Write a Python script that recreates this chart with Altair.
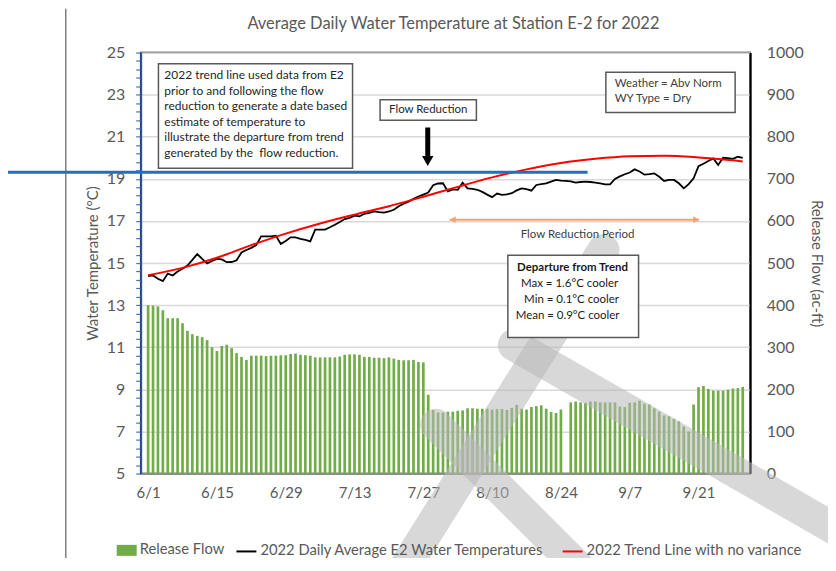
import json
import altair as alt
import pandas as pd

FONT = "Lato"
GREY = "#595959"

# ---------------- data ----------------
dates = pd.date_range("2022-06-01", "2022-09-30").strftime("%Y-%m-%d").tolist()

flow = [400, 399, 397, 388, 369, 369, 369, 357, 339, 331,
        327, 324, 317, 300, 291, 303, 306, 298, 286, 277,
        270, 280, 280, 280, 279, 280, 280, 281, 281, 284,
        285, 282, 281, 280, 276, 276, 276, 276, 276, 278,
        282, 283, 283, 282, 277, 277, 275, 275, 274, 276,
        273, 270, 269, 269, 270, 265, 264, 187, 151, 145,
        145, 147, 147, 149, 150, 155, 155, 154, 154, 154,
        152, 153, 153, 151, 156, 163, 154, 152, 158, 160,
        162, 154, 146, 144, 152, None, 169, 171, 169, 168,
        171, 171, 169, 169, 169, 169, 159, 158, 168, 169,
        173, 166, 164, 155, 147, 138, 136, 130, 124, 112,
        100, 164, 205, 208, 201, 197, 197, 197, 199, 202,
        203, 206]

temps = [14.38, 14.41, 14.25, 14.14, 14.50, 14.41, 14.60, 14.73, 14.88, 15.15,
         15.43, 15.20, 14.98, 15.10, 15.20, 15.17, 15.04, 15.05, 15.13, 15.50,
         15.62, 15.72, 15.85, 16.27, 16.27, 16.27, 16.30, 15.91, 16.05, 16.22,
         16.22, 16.15, 16.10, 16.03, 16.59, 16.59, 16.59, 16.70, 16.82, 16.95,
         17.09, 17.15, 17.25, 17.22, 17.34, 17.38, 17.45, 17.42, 17.40, 17.45,
         17.53, 17.70, 17.82, 17.92, 18.05, 18.16, 18.25, 18.35, 18.70, 18.78,
         18.79, 18.40, 18.50, 18.48, 18.82, 18.55, 18.52, 18.48, 18.38, 18.25,
         18.13, 18.30, 18.24, 18.26, 18.32, 18.45, 18.55, 18.51, 18.44, 18.71,
         18.75, 18.79, 18.87, 18.95, 18.92, 18.90, 18.88, 18.82, 18.85, 18.87,
         18.85, 18.82, 18.78, 18.74, 18.74, 19.00, 19.12, 19.22, 19.30, 19.45,
         19.35, 19.20, 19.22, 19.26, 19.10, 18.90, 18.95, 18.95, 18.79, 18.55,
         18.75, 19.03, 19.60, 19.72, 19.85, 19.97, 19.66, 20.00, 19.98, 19.95,
         20.05, 20.00]

trend_days = [0, 7, 14, 21, 28, 35, 42, 49, 56, 63, 70, 77, 84, 91, 98, 105, 112, 119, 121]
trend_vals = [14.42, 14.77, 15.25, 15.85, 16.40, 16.88, 17.30, 17.70, 18.15, 18.62,
              19.07, 19.45, 19.75, 19.95, 20.07, 20.10, 20.02, 19.88, 19.82]

tick_days = [0, 14, 28, 42, 56, 70, 84, 98, 112]
tick_labels = ["6/1", "6/15", "6/29", "7/13", "7/27", "8/10", "8/24", "9/7", "9/21"]

FLOW_NAME = "Release Flow"
TEMP_NAME = "2022 Daily Average E2 Water Temperatures"
TREND_NAME = "2022 Trend Line with no variance"

day = list(range(len(dates)))
flow_df = pd.DataFrame({"day": day, "date": dates, "flow": flow, "series": FLOW_NAME})
temp_df = pd.DataFrame({"day": day, "temp": temps, "series": TEMP_NAME})
trend_df = pd.DataFrame({"day": trend_days, "temp": trend_vals, "series": TREND_NAME})

# annotations (day / temperature coordinates)
box_x = [2.1, 47.2, 93.15, 73.2]
box_x2 = [41.6, 66.8, 119.45, 99.8]
box_y = [24.47, 22.76, 24.07, 15.37]
box_y2 = [19.50, 21.78, 22.15, 11.46]
boxes_df = pd.DataFrame({"x": box_x, "x2": box_x2, "y": box_y, "y2": box_y2})

note_lines = ["2022 trend line used data from E2",
              "prior to and following the flow",
              "reduction to generate a date based",
              "estimate of temperature to",
              "illustrate the departure from trend",
              "generated by the\u00a0 flow reduction."]
note_y = [23.91, 23.18, 22.45, 21.71, 20.98, 20.25]
note_df = pd.DataFrame({"x": [3.3] * 6, "y": note_y, "text": note_lines})

weather_df = pd.DataFrame({"x": [94.95, 94.95], "y": [23.52, 22.78],
                           "text": ["Weather = Abv Norm", "WY Type = Dry"]})
flowred_df = pd.DataFrame({"x": [57.0], "y": [22.28], "text": ["Flow Reduction"]})
arrow_df = pd.DataFrame({"x": [56.9], "y": [21.44], "y2": [20.05], "yh": [19.85]})
period_df = pd.DataFrame({"x": [61.34], "x2": [112.12], "y": [17.06]})
period_heads = pd.DataFrame({"x": [62.0, 111.5], "y": [17.06, 17.06],
                             "shape": ["triangle-left", "triangle-right"]})
period_text = pd.DataFrame({"x": [87.4], "y": [16.31], "text": ["Flow Reduction Period"]})
dep_title = pd.DataFrame({"x": [86.36], "y": [14.77], "text": ["Departure from Trend"]})
dep_lines = pd.DataFrame({"x": [85.76, 86.16, 85.36], "y": [14.02, 13.24, 12.48],
                          "text": ["Max = 1.6°C cooler", "Min = 0.1°C cooler", "Mean = 0.9°C cooler"]})

# ---------------- encodings ----------------
label_expr = f"{json.dumps(tick_labels)}[indexof({json.dumps(tick_days)}, datum.value)]"
x_scale = alt.Scale(domain=[-0.5, 121.5], nice=False, zero=False)
x_axis = alt.Axis(values=tick_days, labelExpr=label_expr, title=None, grid=False, ticks=False,
                  domainColor="#8C8C8C", domainWidth=2, labelFont=FONT, labelFontSize=15,
                  labelColor=GREY, labelPadding=12, labelOverlap=False)


def X(field="day"):
    return alt.X(f"{field}:Q", scale=x_scale, axis=x_axis)


temp_ticks = [round(5 + 0.4 * k, 1) for k in range(51)]
major = "abs(datum.value - round(datum.value)) < 0.01 && round(datum.value) % 2 == 1"
t_scale = alt.Scale(domain=[5, 25], nice=False, zero=False)
t_axis = alt.Axis(values=temp_ticks, orient="left",
                  labelExpr=f"({major}) ? format(datum.value, 'd') : ''",
                  labelOverlap=False, title="Water Temperature (°C)",
                  titleFont=FONT, titleFontSize=15, titleColor=GREY, titleFontWeight="normal",
                  titlePadding=6, labelFont=FONT, labelFontSize=16, labelColor=GREY,
                  labelPadding=11, grid=True, gridColor="#D9D9D9", gridWidth=1.5,
                  gridOpacity={"condition": {"test": major, "value": 1}, "value": 0},
                  tickColor="#4472C4", tickSize=5, tickWidth=1.2,
                  domainColor="#2F5597", domainWidth=2)


def YT(field):
    return alt.Y(f"{field}:Q", scale=t_scale, axis=t_axis)


f_scale = alt.Scale(domain=[0, 1000], nice=False, zero=True)
f_axis = alt.Axis(values=list(range(0, 1001, 100)), format="d", orient="right",
                  title="Release Flow (ac-ft)",
                  titleFont=FONT, titleFontSize=15, titleColor=GREY, titleFontWeight="normal",
                  titlePadding=5, labelFont=FONT, labelFontSize=16, labelColor=GREY,
                  labelPadding=16, grid=False, ticks=False, domainColor="black", domainWidth=2)

fill_legend = alt.Legend(title=None, orient="none", legendX=-24, legendY=489, direction="horizontal",
                         symbolType="M-1,-0.55L1,-0.55L1,0.55L-1,0.55Z", symbolSize=400,
                         symbolStrokeWidth=0, labelFont=FONT, labelFontSize=14.8, labelColor=GREY,
                         labelOffset=3, labelLimit=0, padding=0)
stroke_legend = alt.Legend(title=None, orient="none", legendX=95, legendY=489, direction="horizontal",
                           symbolType="stroke", symbolSize=400, symbolStrokeWidth=2,
                           labelFont=FONT, labelFontSize=14.8, labelColor=GREY, labelOffset=3,
                           labelLimit=0, columnPadding=14, padding=0)
stroke_scale = alt.Scale(domain=[TEMP_NAME, TREND_NAME], range=["black", "#FF0000"])

# ---------------- layers ----------------
bars = alt.Chart(flow_df).mark_bar(size=2.7).encode(
    x=X(),
    y=alt.Y("flow:Q", scale=f_scale, axis=f_axis),
    fill=alt.Fill("series:N", scale=alt.Scale(domain=[FLOW_NAME], range=["#70AD47"]), legend=fill_legend),
)

# faint "draft" watermark strokes (decoration, pixel positions)
dummy = pd.DataFrame({"k": [0]})
wm_style = dict(color="#B8B8B8", opacity=0.55, strokeWidth=32, strokeCap="round")
wm_a = alt.Chart(dummy).mark_rule(**wm_style).encode(
    x=alt.value(464), y=alt.value(198), x2=alt.value(250), y2=alt.value(540))
wm_b = alt.Chart(dummy).mark_rule(**wm_style).encode(
    x=alt.value(374), y=alt.value(293), x2=alt.value(700), y2=alt.value(480))
wm_c = alt.Chart(dummy).mark_rule(**wm_style).encode(
    x=alt.value(296), y=alt.value(373), x2=alt.value(470), y2=alt.value(547))

temp_line = alt.Chart(temp_df).mark_line(strokeWidth=1.8).encode(
    x=X(), y=YT("temp"),
    stroke=alt.Stroke("series:N", scale=stroke_scale, legend=stroke_legend),
)
trend_line = alt.Chart(trend_df).mark_line(strokeWidth=2, interpolate="monotone").encode(
    x=X(), y=YT("temp"),
    stroke=alt.Stroke("series:N", scale=stroke_scale, legend=stroke_legend),
)

box_layer = alt.Chart(boxes_df).mark_rect(fill="white", stroke=GREY, strokeWidth=1.5).encode(
    x=X("x"), x2=alt.X2("x2"), y=YT("y"), y2=alt.Y2("y2"))

note_layer = alt.Chart(note_df).mark_text(align="left", baseline="middle", font=FONT, fontSize=12,
                                         color="#262626").encode(x=X("x"), y=YT("y"), text="text:N")
weather_layer = alt.Chart(weather_df).mark_text(align="left", baseline="middle", font=FONT, fontSize=11.5,
                                               color="#404040").encode(x=X("x"), y=YT("y"), text="text:N")
flowred_layer = alt.Chart(flowred_df).mark_text(align="center", baseline="middle", font=FONT, fontSize=11.5,
                                               color="#262626").encode(x=X("x"), y=YT("y"), text="text:N")
arrow_shaft = alt.Chart(arrow_df).mark_rule(color="black", strokeWidth=5).encode(
    x=X("x"), y=YT("y"), y2=alt.Y2("y2"))
arrow_head = alt.Chart(arrow_df).mark_point(shape="triangle-down", filled=True, size=130, color="black",
                                            opacity=1).encode(x=X("x"), y=YT("yh"))
period_rule = alt.Chart(period_df).mark_rule(color="#F4A26B", strokeWidth=2).encode(
    x=X("x"), x2=alt.X2("x2"), y=YT("y"))
period_head = alt.Chart(period_heads).mark_point(filled=True, size=45, color="#F4A26B", opacity=1).encode(
    x=X("x"), y=YT("y"), shape=alt.Shape("shape:N", scale=None, legend=None))
period_label = alt.Chart(period_text).mark_text(align="center", baseline="middle", font=FONT, fontSize=11.5,
                                               color="#404040").encode(x=X("x"), y=YT("y"), text="text:N")
dep_title_layer = alt.Chart(dep_title).mark_text(align="center", baseline="middle", font=FONT, fontSize=11.5,
                                                fontWeight="bold", color="#1a1a1a").encode(
    x=X("x"), y=YT("y"), text="text:N")
dep_lines_layer = alt.Chart(dep_lines).mark_text(align="center", baseline="middle", font=FONT, fontSize=11.5,
                                                color="#1a1a1a").encode(x=X("x"), y=YT("y"), text="text:N")

frame_vline = alt.Chart(dummy).mark_rule(color="#404040", strokeWidth=1).encode(
    x=alt.value(-75), y=alt.value(-44), y2=alt.value(520))
blue_hline = alt.Chart(dummy).mark_rule(color="#1F6FC5", strokeWidth=3).encode(
    x=alt.value(-133), x2=alt.value(448), y=alt.value(120))

temp_group = alt.layer(wm_a, wm_b, wm_c, temp_line, trend_line, box_layer, note_layer, weather_layer,
                       flowred_layer, arrow_shaft, arrow_head, period_rule, period_head, period_label,
                       dep_title_layer, dep_lines_layer, frame_vline, blue_hline)

chart = alt.layer(bars, temp_group).resolve_scale(y="independent").properties(
    width=611, height=422,
    title=alt.TitleParams("Average Daily Water Temperature at Station E-2 for 2022", font=FONT,
                          fontSize=16.5, color=GREY, fontWeight="normal", anchor="middle",
                          dx=8, offset=-24),
    autosize=alt.AutoSizeParams(type="none"),
    padding={"left": 133, "top": 44, "right": 78, "bottom": 84},
).configure_view(stroke="black", strokeWidth=1.5)

chart.save("out.html", embed_options={"renderer": "svg", "actions": False})
